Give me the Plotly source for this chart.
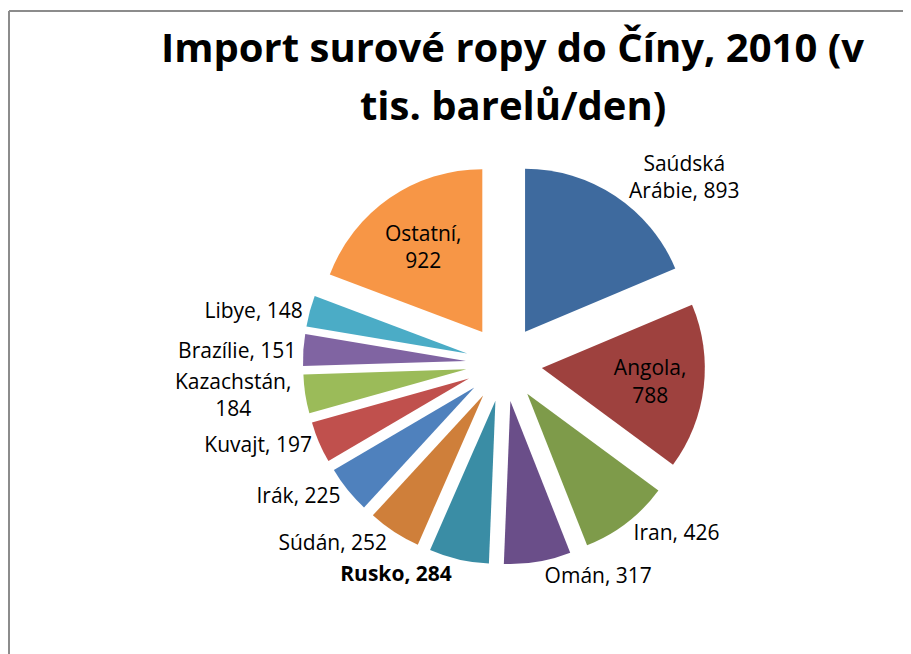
import plotly.graph_objects as go

countries = ['Saúdská<br>Arábie', 'Angola', 'Iran', 'Omán', 'Rusko', 'Súdán', 'Irák',
             'Kuvajt', 'Kazachstán,<br>184', 'Brazílie', 'Libye', 'Ostatní']
imports = [893, 788, 426, 317, 284, 252, 225, 197, 184, 151, 148, 922]
colors = ['#3E6A9E', '#9E413E', '#7E9B4A', '#6A4E89', '#3A8DA5', '#CF7F3A',
          '#4F81BD', '#C0504D', '#9BBB59', '#8064A2', '#4BACC6', '#F79646']
title_lines = ['Import surové ropy do Číny, 2010 (v', 'tis. barelů/den)']

texts = []
for name, val in zip(countries, imports):
    if name.startswith('Kazach'):
        texts.append(name)
    elif name == 'Rusko':
        texts.append(f'<b>{name}, {val}</b>')
    elif name in ('Angola', 'Ostatní'):
        texts.append(f'{name},<br>{val}')
    else:
        texts.append(f'{name}, {val}')

positions = ['inside' if n in ('Angola', 'Ostatní') else 'outside' for n in countries]

fig = go.Figure()

fig.add_trace(
    go.Pie(
        labels=countries, values=imports, text=texts, textinfo='text',
        textposition=positions, insidetextorientation='horizontal',
        sort=False, direction='clockwise', rotation=0,
        pull=[0.234] * len(imports), automargin=False,
        marker=dict(colors=colors, line=dict(width=0)),
        textfont=dict(family='Open Sans', size=21, color='black'),
        domain=dict(x=[0.3237, 0.7652], y=[0.1489, 0.7640]),
        showlegend=False, hoverinfo='label+value'
    )
)

# title drawn as two centred lines
title_y = [39, 97]
annotations = [
    dict(text=f'<b>{line}</b>', xref='paper', yref='paper', x=0.5543, y=1 - yy / 654,
         xanchor='center', yanchor='middle', showarrow=False,
         font=dict(family='Open Sans', size=40, color='black'))
    for line, yy in zip(title_lines, title_y)
]

# chart-area frame: only the left and top edges are visible
frame = dict(color='#8C8C8C', width=2)
shapes = [
    dict(type='line', xref='paper', yref='paper', x0=1 / 911, x1=1 / 911,
         y0=-0.5, y1=1 - 3 / 654, line=frame),
    dict(type='line', xref='paper', yref='paper', x0=1 / 911, x1=1.5,
         y0=1 - 3 / 654, y1=1 - 3 / 654, line=frame),
]

fig.update_layout(
    width=911, height=654,
    margin=dict(l=0, r=0, t=0, b=0, autoexpand=False),
    paper_bgcolor='white',
    annotations=annotations,
    shapes=shapes
)

fig.write_html('out.html')
